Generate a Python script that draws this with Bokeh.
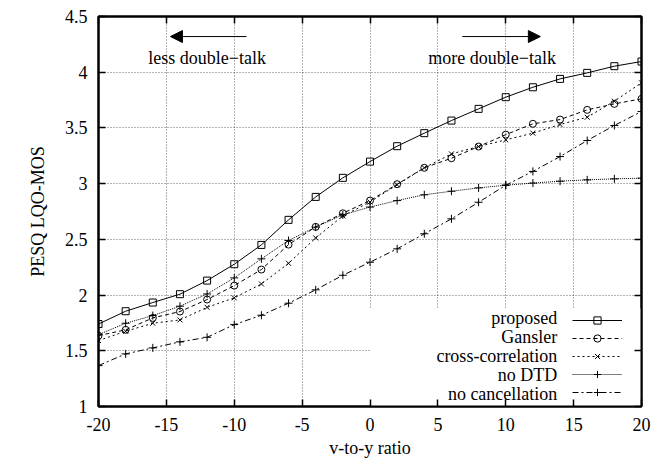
from bokeh.plotting import figure
from bokeh.models import (LinearAxis, FixedTicker, Legend, LegendItem, Label,
                          Arrow, NormalHead, BoxAnnotation, Range1d)
from bokeh.embed import file_html
from bokeh.resources import INLINE

# ---------------- data ----------------
ratio = [-20, -18, -16, -14, -12, -10, -8, -6, -4, -2, 0,
         2, 4, 6, 8, 10, 12, 14, 16, 18, 20]
proposed = [1.74, 1.855, 1.933, 2.008, 2.13, 2.277, 2.45, 2.675, 2.881, 3.052, 3.198,
            3.336, 3.453, 3.566, 3.671, 3.776, 3.865, 3.94, 3.994, 4.054, 4.096]
gansler = [1.636, 1.688, 1.795, 1.852, 1.96, 2.085, 2.229, 2.453, 2.612, 2.734, 2.848,
           2.995, 3.142, 3.228, 3.333, 3.44, 3.537, 3.575, 3.662, 3.716, 3.761]
cross_correlation = [1.592, 1.675, 1.747, 1.777, 1.89, 1.975, 2.1, 2.285, 2.513, 2.71, 2.835,
                     2.99, 3.142, 3.267, 3.333, 3.393, 3.453, 3.531, 3.596, 3.74, 3.905]
no_dtd = [1.645, 1.747, 1.816, 1.9, 2.01, 2.154, 2.325, 2.49, 2.61, 2.72, 2.79,
          2.848, 2.9, 2.932, 2.962, 2.986, 3.005, 3.022, 3.034, 3.043, 3.049]
no_cancellation = [1.367, 1.472, 1.526, 1.58, 1.621, 1.735, 1.819, 1.927, 2.047, 2.178, 2.295,
                   2.415, 2.55, 2.684, 2.833, 2.986, 3.11, 3.243, 3.387, 3.522, 3.647]

series_names = ["proposed", "Gansler", "cross-correlation", "no DTD", "no cancellation"]

x_ticks = [-20, -15, -10, -5, 0, 5, 10, 15, 20]
x_tick_labels = ["-20", "-15", "-10", "-5", "0", "5", "10", "15", "20"]
y_ticks = [1.0, 1.5, 2.0, 2.5, 3.0, 3.5, 4.0, 4.5]
y_tick_labels = ["1", "1.5", "2", "2.5", "3", "3.5", "4", "4.5"]

x_title = "v-to-y ratio"
y_title = "PESQ LQO-MOS"
note_left = "less double\u2212talk"
note_right = "more double\u2212talk"

FONT = "'Liberation Serif', 'Times New Roman', serif"
FS = "18px"

FRAME_H = 390
ROW = 19
Y0, Y1 = 1.0, 4.5

p = figure(width=657, height=462, x_range=Range1d(-20, 20), y_range=Range1d(Y0, Y1),
           output_backend="svg", toolbar_location=None,
           min_border_left=98, min_border_right=16, min_border_top=16, min_border_bottom=56)
p.background_fill_color = "white"
p.border_fill_color = "white"
p.outline_line_color = "black"
p.outline_line_width = 2

xt = FixedTicker(ticks=x_ticks, minor_ticks=[])
yt = FixedTicker(ticks=y_ticks, minor_ticks=[])

def style_axis(ax, ticker, labels, show_labels):
    ax.ticker = ticker
    ax.axis_line_color = "black"
    ax.axis_line_width = 2
    ax.major_tick_in = 7
    ax.major_tick_out = 0
    ax.major_tick_line_color = "black"
    ax.major_tick_line_width = 1.5
    ax.minor_tick_line_color = None
    ax.major_label_overrides = labels
    if show_labels:
        ax.major_label_text_font = FONT
        ax.major_label_text_font_size = FS
        ax.major_label_text_color = "black"
        ax.axis_label_text_font = FONT
        ax.axis_label_text_font_size = FS
        ax.axis_label_text_font_style = "normal"
        ax.axis_label_text_color = "black"
    else:
        ax.major_label_text_font_size = "1px"
        ax.major_label_standoff = 0

xlab = {t: s for t, s in zip(x_ticks, x_tick_labels)}
ylab = {t: s for t, s in zip(y_ticks, y_tick_labels)}

style_axis(p.xaxis[0], xt, xlab, True)
p.xaxis[0].axis_label = x_title
p.xaxis[0].major_label_standoff = 11
p.xaxis[0].axis_label_standoff = 4
style_axis(p.yaxis[0], yt, ylab, True)
p.yaxis[0].axis_label = y_title
p.yaxis[0].major_label_standoff = 11
p.yaxis[0].axis_label_standoff = 14

top_ax = LinearAxis()
style_axis(top_ax, xt, {t: "" for t in x_ticks}, False)
p.add_layout(top_ax, "above")
right_ax = LinearAxis()
style_axis(right_ax, yt, {t: "" for t in y_ticks}, False)
p.add_layout(right_ax, "right")

for g in (p.xgrid[0], p.ygrid[0]):
    g.grid_line_color = "black"
    g.grid_line_alpha = 0.6
    g.grid_line_width = 1
    g.grid_line_dash = "1 2"

# grid is cleared behind the key
p.add_layout(BoxAnnotation(left=0, right=20, bottom=1, top=1.88, fill_color="white",
                           fill_alpha=1, line_alpha=0, level="underlay"))

values = [proposed, gansler, cross_correlation, no_dtd, no_cancellation]
dashes = ["solid", "4 3", "2 3", "1 1", "6 3 2 3"]
markers = ["square", "circle", "x", "cross", "cross"]
sizes = [7, 7, 7, 8, 8]

items = []
for name, vals, dash, mk, sz in zip(series_names, values, dashes, markers, sizes):
    ln = p.line(ratio, vals, line_color="black", line_width=1, line_dash=dash)
    sc = p.scatter(ratio, vals, marker=mk, size=sz, line_color="black", line_width=1,
                   fill_alpha=0)
    items.append(LegendItem(label=" ", renderers=[ln, sc]))

# gnuplot-style key: samples on the right, names right-aligned to their left
legend = Legend(items=items, location=(470, 1), padding=4, spacing=0, margin=0,
                glyph_width=50, glyph_height=ROW - 1, label_height=ROW - 1, label_standoff=0,
                label_width=0, label_text_font_size="1px",
                background_fill_alpha=0, border_line_alpha=0)
p.add_layout(legend)

px_per_unit = FRAME_H / (Y1 - Y0)
n = len(series_names)
for k, name in enumerate(series_names):
    row_from_bottom = n - 1 - k
    yv = Y0 + (-1 + 4 + ROW / 2 + ROW * row_from_bottom) / px_per_unit
    p.add_layout(Label(x=13.8, y=yv, text=name, text_align="right", text_baseline="middle",
                       text_font=FONT, text_font_size=FS, text_color="black"))

head = dict(size=12, fill_color="black", line_color="black")
p.add_layout(Arrow(x_start=-9.1, y_start=4.32, x_end=-14.7, y_end=4.32,
                   end=NormalHead(**head), line_color="black", line_width=1))
p.add_layout(Arrow(x_start=6.8, y_start=4.32, x_end=12.55, y_end=4.32,
                   end=NormalHead(**head), line_color="black", line_width=1))
p.add_layout(Label(x=-12, y=4.13, text=note_left, text_align="center", text_baseline="middle",
                   text_font=FONT, text_font_size=FS, text_color="black"))
p.add_layout(Label(x=9.0, y=4.13, text=note_right, text_align="center", text_baseline="middle",
                   text_font=FONT, text_font_size=FS, text_color="black"))

open("out.html", "w").write(file_html(p, INLINE))
